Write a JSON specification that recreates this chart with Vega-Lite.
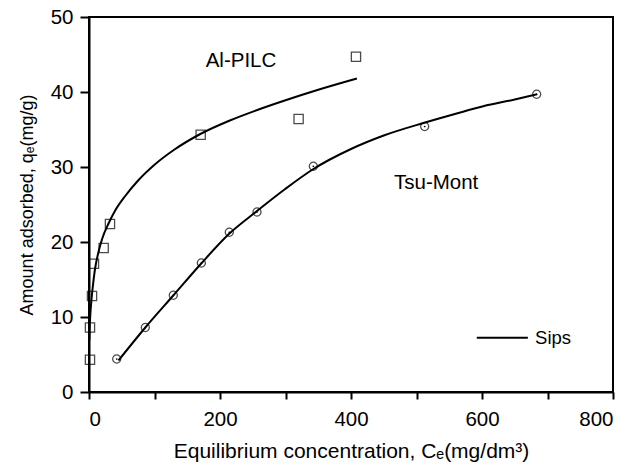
{
  "$schema": "https://vega.github.io/schema/vega-lite/v6.json",
  "width": 524,
  "height": 375,
  "autosize": {"type": "none"},
  "padding": {"left": 89, "top": 17, "right": 30, "bottom": 76},
  "background": "white",
  "config": {
    "font": "Liberation Sans",
    "view": {"stroke": "black", "strokeWidth": 2},
    "axis": {
      "grid": false,
      "domainColor": "black",
      "domainWidth": 2,
      "tickColor": "black",
      "tickWidth": 2,
      "labelColor": "black",
      "labelFont": "Liberation Sans",
      "labelFontSize": 20.5,
      "titleColor": "black",
      "titleFont": "Liberation Sans",
      "titleFontWeight": "normal"
    }
  },
  "datasets": {
    "pilc": [
      {"c": 1.5, "q": 4.3}, {"c": 1.5, "q": 8.6}, {"c": 4.6, "q": 12.8}, {"c": 7.6, "q": 17.1},
      {"c": 22.4, "q": 19.2}, {"c": 32, "q": 22.4}, {"c": 170.5, "q": 34.3}, {"c": 320, "q": 36.4}, {"c": 407.6, "q": 44.7}
    ],
    "mont": [
      {"c": 42.3, "q": 4.4}, {"c": 86, "q": 8.6}, {"c": 128.7, "q": 12.9}, {"c": 171.5, "q": 17.2},
      {"c": 214.2, "q": 21.3}, {"c": 256.5, "q": 24.0}, {"c": 342.5, "q": 30.1}, {"c": 512.5, "q": 35.4}, {"c": 683.5, "q": 39.7}
    ],
    "pilcfit": [
      {"c": 0.5, "q": 6.9}, {"c": 1, "q": 8.5}, {"c": 2, "q": 10.3}, {"c": 4, "q": 12.5}, {"c": 6, "q": 14.2},
      {"c": 9, "q": 16.3}, {"c": 14, "q": 18.5}, {"c": 20, "q": 20.4}, {"c": 30, "q": 22.5}, {"c": 40, "q": 24.2},
      {"c": 55, "q": 26.1}, {"c": 75, "q": 28.2}, {"c": 100, "q": 30.3}, {"c": 130, "q": 32.3}, {"c": 170, "q": 34.4},
      {"c": 215, "q": 36.2}, {"c": 260, "q": 37.7}, {"c": 300, "q": 38.9}, {"c": 350, "q": 40.3}, {"c": 409, "q": 41.8}
    ],
    "montfit": [
      {"c": 45, "q": 4.2}, {"c": 86, "q": 8.6}, {"c": 129, "q": 12.9}, {"c": 171, "q": 17.1}, {"c": 214, "q": 21.1},
      {"c": 256, "q": 24.1}, {"c": 300, "q": 27.1}, {"c": 342, "q": 29.7}, {"c": 400, "q": 32.4}, {"c": 450, "q": 34.2},
      {"c": 512, "q": 35.9}, {"c": 560, "q": 37.1}, {"c": 602, "q": 38.1}, {"c": 650, "q": 39.0}, {"c": 684, "q": 39.7}
    ],
    "labels": [
      {"c": 232, "q": 44.2, "t": "Al-PILC"},
      {"c": 530, "q": 27.9, "t": "Tsu-Mont"}
    ],
    "legendline": [{"c": 592, "c2": 670, "q": 7.25}],
    "legendtext": [{"c": 681, "q": 7.25, "t": "Sips"}]
  },
  "layer": [
    {
      "data": {"name": "pilcfit"},
      "mark": {"type": "line", "color": "black", "strokeWidth": 2, "interpolate": "monotone"},
      "encoding": {
        "x": {"field": "c", "type": "quantitative", "scale": {"domain": [0, 800]},
          "axis": {"values": [0, 100, 200, 300, 400, 500, 600, 700, 800], "labelExpr": "datum.value % 200 == 0 ? datum.label : ''",
            "title": "Equilibrium concentration, Cₑ(mg/dm³)", "titleFontSize": 21, "titlePadding": 11, "tickSize": 7, "labelPadding": 10}},
        "y": {"field": "q", "type": "quantitative", "scale": {"domain": [0, 50]},
          "axis": {"values": [0, 5, 10, 15, 20, 25, 30, 35, 40, 45, 50], "labelExpr": "datum.value % 10 == 0 ? datum.label : ''",
            "title": "Amount adsorbed, qₑ(mg/g)", "titleFontSize": 18, "titlePadding": 14, "tickSize": 9, "labelPadding": 7}}
      }
    },
    {
      "data": {"name": "montfit"},
      "mark": {"type": "line", "color": "black", "strokeWidth": 2, "interpolate": "monotone"},
      "encoding": {
        "x": {"field": "c", "type": "quantitative"},
        "y": {"field": "q", "type": "quantitative"}
      }
    },
    {
      "data": {"name": "pilc"},
      "mark": {"type": "point", "shape": "square", "filled": false, "color": "black", "size": 85, "strokeWidth": 1.3},
      "encoding": {
        "x": {"field": "c", "type": "quantitative"},
        "y": {"field": "q", "type": "quantitative"}
      }
    },
    {
      "data": {"name": "mont"},
      "mark": {"type": "point", "shape": "circle", "filled": false, "color": "black", "size": 65, "strokeWidth": 1.3},
      "encoding": {
        "x": {"field": "c", "type": "quantitative"},
        "y": {"field": "q", "type": "quantitative"}
      }
    },
    {
      "data": {"name": "mont"},
      "mark": {"type": "circle", "color": "black", "size": 3, "opacity": 1},
      "encoding": {
        "x": {"field": "c", "type": "quantitative"},
        "y": {"field": "q", "type": "quantitative"}
      }
    },
    {
      "data": {"name": "labels"},
      "mark": {"type": "text", "color": "black", "fontSize": 20.5, "align": "center", "baseline": "middle", "font": "Liberation Sans"},
      "encoding": {
        "x": {"field": "c", "type": "quantitative"},
        "y": {"field": "q", "type": "quantitative"},
        "text": {"field": "t"}
      }
    },
    {
      "data": {"name": "legendline"},
      "mark": {"type": "rule", "color": "black", "strokeWidth": 2},
      "encoding": {
        "x": {"field": "c", "type": "quantitative"},
        "x2": {"field": "c2"},
        "y": {"field": "q", "type": "quantitative"}
      }
    },
    {
      "data": {"name": "legendtext"},
      "mark": {"type": "text", "color": "black", "fontSize": 18.5, "align": "left", "baseline": "middle", "font": "Liberation Sans"},
      "encoding": {
        "x": {"field": "c", "type": "quantitative"},
        "y": {"field": "q", "type": "quantitative"},
        "text": {"field": "t"}
      }
    }
  ]
}
